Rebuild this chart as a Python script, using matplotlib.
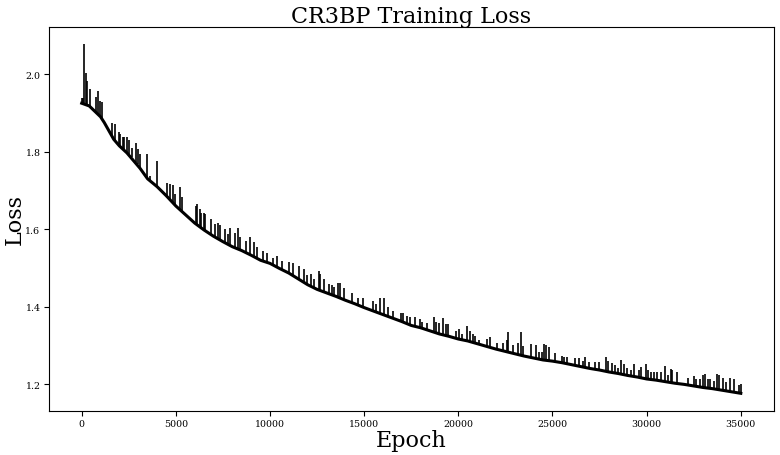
import numpy as np
import matplotlib
matplotlib.use("Agg")
import matplotlib.pyplot as plt

plt.rcParams['font.family'] = 'DejaVu Serif'

# lower envelope of the loss curve
base_epoch = [0, 400, 1000, 1200, 1700, 2000, 2400, 3100, 3500, 4000, 4500,
              5000, 5500, 6000, 6500, 7000, 7500, 8000, 8500, 9000, 9500,
              10000, 10500, 11000, 11500, 12000, 12500, 13000, 13500, 14000,
              14500, 15000, 15500, 16000, 16500, 17000, 17500, 18000, 18500,
              19000, 19500, 20000, 20500, 21000, 21500, 22000, 22500, 23000,
              23500, 24000, 24500, 25000, 25500, 26000, 26500, 27000, 27500,
              28000, 28500, 29000, 29500, 30000, 30500, 31000, 31500, 32000,
              32500, 33000, 33500, 34000, 34500, 35000]
base_loss = [1.925, 1.918, 1.890, 1.875, 1.832, 1.815, 1.797, 1.757, 1.730,
             1.710, 1.686, 1.660, 1.638, 1.616, 1.598, 1.582, 1.568, 1.555,
             1.545, 1.533, 1.520, 1.512, 1.499, 1.487, 1.472, 1.457, 1.445,
             1.436, 1.427, 1.417, 1.408, 1.398, 1.389, 1.380, 1.371, 1.362,
             1.352, 1.346, 1.338, 1.330, 1.324, 1.317, 1.312, 1.305, 1.298,
             1.291, 1.285, 1.279, 1.273, 1.268, 1.263, 1.260, 1.256, 1.251,
             1.246, 1.241, 1.237, 1.232, 1.228, 1.223, 1.219, 1.214, 1.211,
             1.207, 1.203, 1.200, 1.196, 1.192, 1.189, 1.185, 1.181, 1.177]

# spikes: epoch, peak loss, loss at the foot of the spike
spike_epoch = [0, 60, 125, 213, 300, 445, 785, 890, 980, 1067, 1635, 1777,
               1956, 2045, 2170, 2260, 2400, 2525, 2670, 2880, 2970, 3095,
               3450, 3630, 4000, 4520, 4695, 4840, 4980, 5230, 5335, 6045,
               6120, 6300, 6350, 6470, 6560, 6880, 7100, 7220, 7360, 7630,
               7770, 7900, 8125, 8305, 8430, 8700, 8960, 9140, 9320, 9620,
               9815, 10150, 10390, 10650, 11010, 11220, 11540, 11810, 11950,
               12180, 12340, 12575, 12645, 12840, 13140, 13285, 13410, 13590,
               13730, 13940, 14350, 14650, 14920, 15455, 15630, 15845, 16075,
               16255, 16555, 16965, 17075, 17285, 17445, 17710, 17940, 18085,
               18340, 18690, 18830, 18955, 19190, 19365, 19455, 19865, 20040,
               20220, 20470, 20610, 20755, 20880, 21110, 21500, 21680, 22035,
               22390, 22570, 22660, 22925, 23155, 23315, 23460, 23850, 24130,
               24260, 24450, 24560, 24665, 24790, 25110, 25500, 25630, 25770,
               26215, 26390, 26620, 26745, 26925, 27245, 27460, 27815, 27940,
               28135, 28295, 28475, 28650, 28795, 28935, 29185, 29325, 29595,
               29680, 29945, 30075, 30250, 30390, 30535, 30745, 30960, 31140,
               31280, 31370, 31600, 32170, 32490, 32610, 32850, 32970, 33090,
               33235, 33375, 33595, 33735, 33860, 34040, 34215, 34450, 34660,
               34930, 35000]
spike_top = [1.938, 1.938, 2.077, 2.004, 1.983, 1.961, 1.940, 1.957, 1.932,
             1.927, 1.873, 1.872, 1.850, 1.846, 1.839, 1.838, 1.839, 1.829,
             1.809, 1.822, 1.808, 1.794, 1.793, 1.738, 1.777, 1.719, 1.716,
             1.714, 1.691, 1.710, 1.684, 1.661, 1.665, 1.652, 1.641, 1.643,
             1.639, 1.626, 1.613, 1.617, 1.611, 1.600, 1.587, 1.603, 1.590,
             1.603, 1.579, 1.570, 1.580, 1.566, 1.553, 1.544, 1.540, 1.527,
             1.530, 1.519, 1.515, 1.513, 1.504, 1.497, 1.482, 1.484, 1.473,
             1.493, 1.484, 1.472, 1.459, 1.456, 1.450, 1.461, 1.461, 1.448,
             1.436, 1.424, 1.422, 1.416, 1.407, 1.422, 1.422, 1.399, 1.390,
             1.384, 1.384, 1.377, 1.373, 1.373, 1.369, 1.360, 1.358, 1.373,
             1.360, 1.358, 1.370, 1.356, 1.356, 1.338, 1.343, 1.330, 1.350,
             1.338, 1.330, 1.326, 1.315, 1.317, 1.321, 1.307, 1.307, 1.315,
             1.334, 1.302, 1.308, 1.336, 1.298, 1.304, 1.302, 1.284, 1.283,
             1.304, 1.302, 1.297, 1.281, 1.274, 1.270, 1.270, 1.267, 1.267,
             1.261, 1.270, 1.259, 1.257, 1.257, 1.270, 1.261, 1.255, 1.250,
             1.242, 1.264, 1.253, 1.242, 1.238, 1.253, 1.238, 1.244, 1.253,
             1.236, 1.233, 1.233, 1.231, 1.231, 1.247, 1.223, 1.240, 1.236,
             1.231, 1.216, 1.221, 1.214, 1.214, 1.224, 1.227, 1.214, 1.214,
             1.210, 1.227, 1.223, 1.216, 1.206, 1.216, 1.214, 1.199, 1.201]
spike_low = [1.925, 1.922, 1.922, 1.921, 1.920, 1.916, 1.900, 1.895, 1.891,
             1.886, 1.838, 1.828, 1.818, 1.814, 1.808, 1.804, 1.797, 1.792,
             1.786, 1.774, 1.769, 1.757, 1.733, 1.725, 1.710, 1.685, 1.676,
             1.669, 1.661, 1.650, 1.645, 1.615, 1.613, 1.607, 1.605, 1.600,
             1.597, 1.586, 1.579, 1.576, 1.572, 1.565, 1.561, 1.558, 1.552,
             1.549, 1.546, 1.540, 1.534, 1.530, 1.525, 1.518, 1.515, 1.508,
             1.502, 1.496, 1.487, 1.481, 1.471, 1.463, 1.459, 1.453, 1.449,
             1.444, 1.442, 1.439, 1.433, 1.431, 1.429, 1.425, 1.422, 1.418,
             1.411, 1.405, 1.400, 1.390, 1.387, 1.383, 1.379, 1.375, 1.370,
             1.363, 1.361, 1.356, 1.353, 1.349, 1.347, 1.345, 1.341, 1.335,
             1.333, 1.331, 1.328, 1.326, 1.325, 1.319, 1.316, 1.314, 1.312,
             1.310, 1.308, 1.307, 1.303, 1.298, 1.295, 1.290, 1.286, 1.284,
             1.283, 1.280, 1.277, 1.275, 1.273, 1.269, 1.267, 1.266, 1.264,
             1.262, 1.261, 1.261, 1.259, 1.256, 1.255, 1.254, 1.249, 1.247,
             1.245, 1.244, 1.242, 1.239, 1.237, 1.234, 1.233, 1.231, 1.230,
             1.228, 1.226, 1.225, 1.224, 1.221, 1.220, 1.218, 1.217, 1.215,
             1.214, 1.213, 1.212, 1.211, 1.209, 1.207, 1.206, 1.205, 1.204,
             1.202, 1.199, 1.196, 1.195, 1.193, 1.192, 1.191, 1.190, 1.189,
             1.188, 1.187, 1.186, 1.185, 1.183, 1.181, 1.179, 1.177, 1.177]

fig, ax = plt.subplots(figsize=(7.8, 4.56), dpi=100)
fig.subplots_adjust(left=0.0625, right=0.992, top=0.939, bottom=0.097)

ax.vlines(spike_epoch, spike_low, spike_top, color='black', linewidth=1.2)
ax.plot(base_epoch, base_loss, color='black', linewidth=2.2)

ax.set_title('CR3BP Training Loss', fontsize=16, pad=3)
ax.set_xlabel('Epoch', fontsize=16, labelpad=1)
ax.set_ylabel('Loss', fontsize=16, labelpad=0)
ax.tick_params(labelsize=6.8, pad=2.5)

plt.savefig('out.png')
